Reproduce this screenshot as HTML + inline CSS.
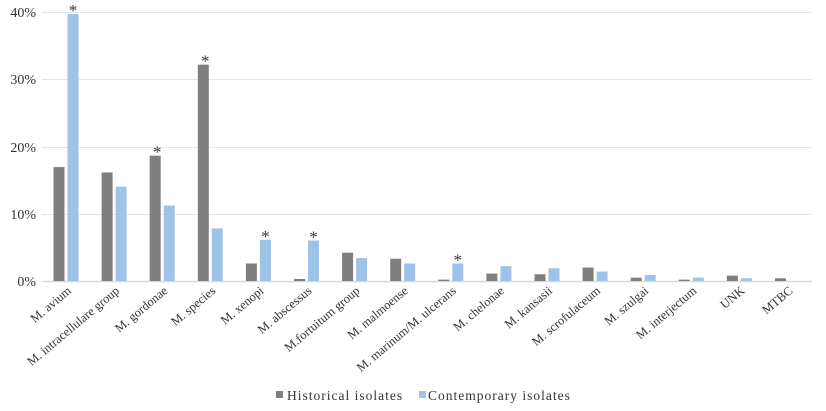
<!DOCTYPE html>
<html><head><meta charset="utf-8"><style>
html,body{margin:0;padding:0;background:#fff;width:826px;height:411px;overflow:hidden}
svg text{font-family:"Liberation Serif",serif;fill:#333}
</style></head><body>
<svg width="826" height="411" viewBox="0 0 826 411" xmlns="http://www.w3.org/2000/svg">
<g stroke="#e6e6e6" stroke-width="1">
<line x1="42" y1="12.5" x2="812" y2="12.5"/>
<line x1="42" y1="79.5" x2="812" y2="79.5"/>
<line x1="42" y1="147.5" x2="812" y2="147.5"/>
<line x1="42" y1="214.5" x2="812" y2="214.5"/>
</g>
<line x1="42" y1="281.5" x2="812" y2="281.5" stroke="#d9d9d9" stroke-width="1.5"/>
<g font-size="14" text-anchor="end">
<text x="36" y="17">40%</text>
<text x="36" y="84">30%</text>
<text x="36" y="152">20%</text>
<text x="36" y="219">10%</text>
<text x="36" y="286">0%</text>
</g>
<g id="bars"></g>
<g id="labels" font-size="12.5" text-anchor="end"></g>
<g id="stars" font-size="17" text-anchor="middle"></g>
<rect x="276" y="391" width="7" height="7" fill="#7f7f7f"/>
<text x="287" y="400" font-size="13.5" letter-spacing="1">Historical isolates</text>
<rect x="419" y="391" width="7" height="7" fill="#9dc3e6"/>
<text x="428" y="400" font-size="13.5" letter-spacing="1">Contemporary isolates</text>
</svg>
<script>
var d=[["M. avium",16.9,39.6,2],["M. intracellulare group",16.1,14.0,0],["M. gordonae",18.6,11.2,1],["M. species",32.1,7.8,1],["M. xenopi",2.6,6.1,2],["M. abscessus",0.3,6.0,2],["M.fortuitum group",4.2,3.4,0],["M. malmoense",3.3,2.6,0],["M. marinum/M. ulcerans",0.2,2.6,2],["M. chelonae",1.1,2.2,0],["M. kansasii",1.0,1.9,0],["M. scrofulaceum",2.0,1.4,0],["M. szulgai",0.5,0.9,0],["M. interjectum",0.2,0.5,0],["UNK",0.8,0.4,0],["MTBC",0.4,0.0,0]];
var ns="http://www.w3.org/2000/svg",b=document.getElementById("bars"),l=document.getElementById("labels"),s=document.getElementById("stars");
function el(t,a,p,tx){var e=document.createElementNS(ns,t);for(var k in a)e.setAttribute(k,a[k]);if(tx)e.textContent=tx;p.appendChild(e);return e;}
d.forEach(function(r,i){var c=66+i*48.1,y0=281,k=6.74;
var h1=r[1]*k,h2=r[2]*k;
if(h1>0)el("rect",{x:c-12.5,y:y0-h1,width:11,height:h1,fill:"#7f7f7f"},b);
if(h2>0)el("rect",{x:c+1.5,y:y0-h2,width:11,height:h2,fill:"#9dc3e6"},b);
el("text",{x:0,y:0,transform:"translate("+(c+6)+",292) rotate(-40)"},l,r[0]);
if(r[3]==1)el("text",{x:c-5,y:y0-h1+2},s,"*");
if(r[3]==2)el("text",{x:c+7,y:y0-h2+2},s,"*");
});
</script>
</body></html>
